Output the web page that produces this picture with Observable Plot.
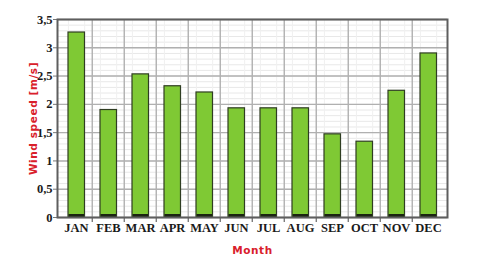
<!DOCTYPE html>
<html>
<head>
<meta charset="utf-8">
<script src="https://cdn.jsdelivr.net/npm/d3@7"></script>
<script src="https://cdn.jsdelivr.net/npm/@observablehq/plot@0.6"></script>
<style>
  html, body { margin: 0; padding: 0; background: #fff; }
  #chart svg { display: block; }
</style>
</head>
<body>
<div id="chart"></div>
<script>
const months = ["JAN","FEB","MAR","APR","MAY","JUN","JUL","AUG","SEP","OCT","NOV","DEC"];
const windSpeed = [3.27, 1.9, 2.53, 2.32, 2.21, 1.93, 1.93, 1.93, 1.47, 1.34, 2.24, 2.9];
const yTicks = [0, 0.5, 1, 1.5, 2, 2.5, 3, 3.5];
const yMinorTicks = d3.range(0, 35).map(i => i / 10);

const data = months.map((m, i) => ({month: m, speed: windSpeed[i]}));

const W = 480, H = 267;
const mL = 57, mR = 33, mT = 19, mB = 50;
const bw = (W - mL - mR) / months.length;

const serif = "'Liberation Serif', 'DejaVu Serif', serif";

const chart = Plot.plot({
  width: W,
  height: H,
  marginLeft: mL,
  marginRight: mR,
  marginTop: mT,
  marginBottom: mB,
  style: {background: "#fff", fontFamily: serif},
  x: {domain: months, padding: 0, label: null},
  y: {domain: [0, 3.5], label: null},
  marks: [
    // minor grid
    Plot.ruleY(yMinorTicks, {stroke: "#e8e8e8", strokeWidth: 1}),
    Plot.ruleX(months, {dx: -bw / 4, stroke: "#f0f0f0", strokeWidth: 1}),
    Plot.ruleX(months, {dx: bw / 4, stroke: "#f0f0f0", strokeWidth: 1}),
    // major grid
    Plot.ruleY(yTicks, {stroke: "#b0b0b0", strokeWidth: 1.4}),
    Plot.ruleX(months.slice(1), {dx: -bw / 2, stroke: "#b0b0b0", strokeWidth: 1.4}),
    // bars
    Plot.barY(data, {x: "month", y: "speed", fill: "#7fc934", stroke: "#2f3d22", strokeWidth: 1.2, insetLeft: 8, insetRight: 7.5}),
    Plot.tickY(data, {x: "month", y: () => 0, stroke: "#1b2412", strokeWidth: 3, insetLeft: 8.5, insetRight: 8, dy: -2}),
    // axes
    Plot.axisY({ticks: yTicks, tickFormat: d => String(d).replace(".", ","), tickSize: 4, tickPadding: 1,
      fontSize: 12.5, fontWeight: "bold", fontFamily: serif, fill: "#1a1a1a", stroke: "#777",
      label: "Wind speed [m/s]", labelAnchor: "center", labelArrow: "none", labelOffset: 28}),
    Plot.axisX({tickSize: 0, tickPadding: 6, fontSize: 12.5, fontWeight: "bold", fontFamily: serif, fill: "#1a1a1a",
      label: "Month", labelAnchor: "center", labelArrow: "none", labelOffset: 36}),
    Plot.ruleX(months.slice(1), {dx: -bw / 2, y1: () => 0, y2: () => 0, stroke: "#666", strokeWidth: 1.2, insetBottom: -5}),
    Plot.frame({stroke: "#5e5e5e", strokeWidth: 2})
  ]
});

// style axis labels (red bold sans)
d3.select(chart).selectAll("g[aria-label='y-axis label'] text, g[aria-label='x-axis label'] text")
  .attr("fill", "#d9202b")
  .style("font-family", "'DejaVu Sans', sans-serif")
  .style("font-weight", "bold")
  .style("font-size", "10.5px")
  .style("letter-spacing", "0.6px");

document.getElementById("chart").appendChild(chart);
</script>
</body>
</html>
